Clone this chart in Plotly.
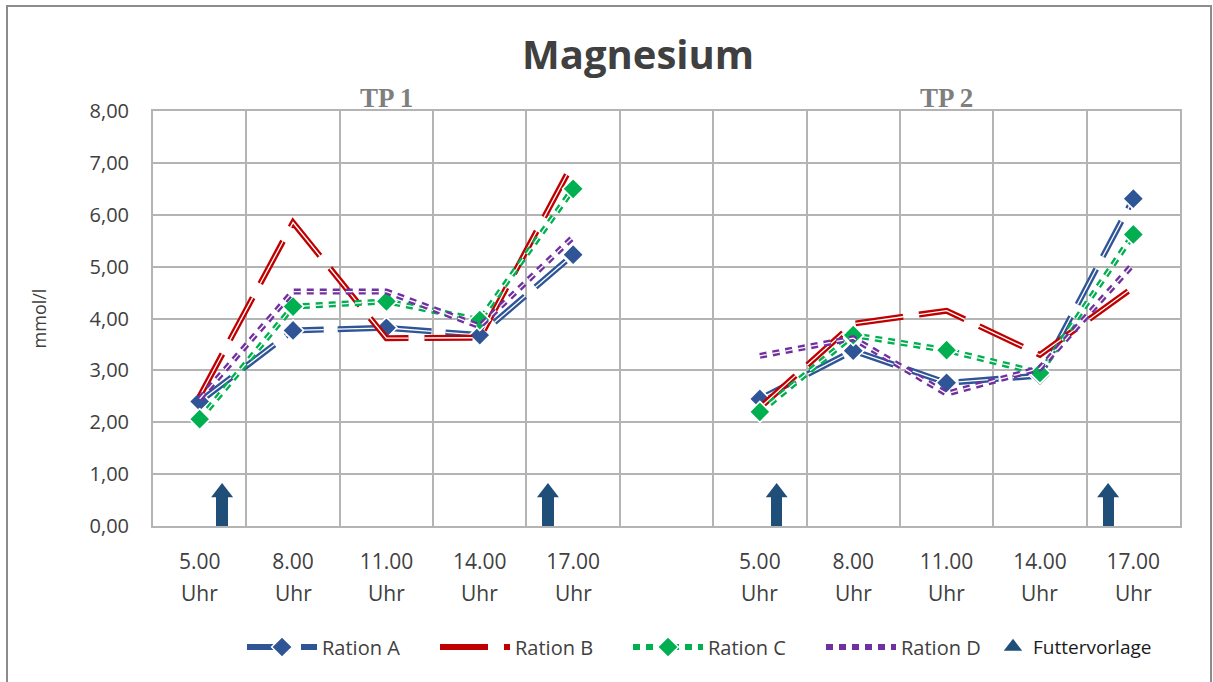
import plotly.graph_objects as go

# Sampling times per trial period (TP 1, blank spacer, TP 2)
time_labels = ["5.00", "8.00", "11.00", "14.00", "17.00"]
period_labels = ["TP 1", "TP 2"]
x_pos = [0, 1, 2, 3, 4, 5, 6, 7, 8, 9, 10]
tick_pos = [0, 1, 2, 3, 4, 6, 7, 8, 9, 10]
tick_text = time_labels + time_labels
period_pos = [2, 8]

# Magnesium concentration (mmol/l); None = spacer between the periods
ration_a = [2.40, 3.77, 3.82, 3.68, 5.23, None, 2.45, 3.38, 2.76, 2.90, 6.31]
ration_b = [2.50, 5.85, 3.62, 3.63, 7.00, None, 2.28, 3.90, 4.15, 3.30, 4.60]
ration_c = [2.06, 4.23, 4.33, 3.97, 6.50, None, 2.20, 3.68, 3.39, 2.95, 5.62]
ration_d = [2.45, 4.52, 4.52, 3.85, 5.57, None, 3.28, 3.62, 2.55, 3.04, 5.05]

# Feeding times (arrow positions on the x scale) and arrow height
feed_x = [0.24, 3.73, 6.18, 9.73]
feed_tip = [0.83, 0.83, 0.83, 0.83]

Y_MIN, Y_MAX = 0, 8
PLOT_H = 415  # px height of the plotting area
px_per_unit = PLOT_H / (Y_MAX - Y_MIN)
HEAD = 19     # triangle marker size
head_center = [t - (HEAD / 2) / px_per_unit for t in feed_tip]
shaft_top = [c - (HEAD / 4) / px_per_unit + 0.03 for c in head_center]

series = [
    dict(name="Ration A", y=ration_a, color="#2F5597", dash="40px,14px", marker=True),
    dict(name="Ration B", y=ration_b, color="#C00000", dash="48px,16px", marker=False),
    dict(name="Ration C", y=ration_c, color="#00B050", dash="7px,6px", marker=True),
    dict(name="Ration D", y=ration_d, color="#7030A0", dash="7px,6px", marker=False),
]

fig = go.Figure()

for s in series:
    mk = dict(symbol="diamond", size=16, color=s["color"],
              line=dict(color="white", width=1.5))
    fig.add_trace(go.Scatter(
        x=x_pos, y=s["y"], name=s["name"],
        mode="lines+markers" if s["marker"] else "lines",
        line=dict(color=s["color"], width=6, dash=s["dash"]),
        marker=mk if s["marker"] else None,
        connectgaps=False, legendgroup=s["name"],
    ))
    # thin white inner stripe for the double-line look
    fig.add_trace(go.Scatter(
        x=x_pos, y=s["y"], mode="lines", showlegend=False, hoverinfo="skip",
        line=dict(color="white", width=1.3, dash=s["dash"]),
        connectgaps=False, legendgroup=s["name"],
    ))
    if s["marker"]:
        fig.add_trace(go.Scatter(
            x=x_pos, y=s["y"], mode="markers", showlegend=False,
            marker=mk, legendgroup=s["name"],
        ))

# feeding arrows: shaft as narrow bars, head as triangle markers
fig.add_trace(go.Bar(
    x=feed_x, y=shaft_top, width=0.12, marker=dict(color="#1F4E79", line_width=0),
    showlegend=False, hoverinfo="skip", legendgroup="feed",
))
fig.add_trace(go.Scatter(
    x=feed_x, y=head_center, mode="markers", name="Futtervorlage",
    marker=dict(symbol="triangle-up", size=HEAD, color="#1F4E79", line_width=0),
    legendgroup="feed", legend="legend2",
))

annotations = []
for p, lab in zip(period_pos, period_labels):
    annotations.append(dict(
        x=p, y=1, xref="x", yref="paper", text=lab, showarrow=False,
        yanchor="bottom", yshift=-4,
        font=dict(family="Liberation Serif", size=27, color="#7F7F7F", weight="bold"),
    ))
for p in tick_pos:
    annotations.append(dict(
        x=p, y=0, xref="x", yref="paper", text="Uhr", showarrow=False,
        yanchor="middle", yshift=-67,
        font=dict(family="Open Sans", size=21, color="#404040"),
    ))

# outer chart border
L, R, T, B = 153, 33, 111, 156
W, H = 1213, 682
pw, ph = W - L - R, H - T - B
def px_x(v):
    return (v - L) / pw
def px_y(v):
    return (H - B - v) / ph

fig.update_layout(
    width=W, height=H,
    margin=dict(l=L, r=R, t=T, b=B),
    paper_bgcolor="white", plot_bgcolor="white",
    separators=",.",
    font=dict(family="Open Sans", color="#404040"),
    title=dict(text="<b>Magnesium</b>", x=0.526, xanchor="center", y=1 - 55 / H,
               yanchor="middle", font=dict(family="Open Sans", size=40, color="#404040")),
    xaxis=dict(
        range=[-0.5, 10.5], tickmode="array", tickvals=tick_pos, ticktext=tick_text,
        showgrid=False, zeroline=False, showline=True, mirror=True,
        linecolor="#B4B4B4", linewidth=2, ticks="", ticklabelstandoff=16,
        tickfont=dict(family="Open Sans", size=21, color="#404040"),
        minor=dict(tick0=0.5, dtick=1, showgrid=True, gridcolor="#B4B4B4", gridwidth=2),
    ),
    yaxis=dict(
        range=[Y_MIN, Y_MAX], dtick=1, tickformat=".2f",
        showgrid=True, gridcolor="#B4B4B4", gridwidth=2, zeroline=False,
        showline=True, mirror=True, linecolor="#B4B4B4", linewidth=2,
        ticks="", ticklabelstandoff=18,
        tickfont=dict(family="Open Sans", size=20, color="#404040"),
        title=dict(text="mmol/l", standoff=38,
                   font=dict(family="Open Sans", size=18, color="#404040")),
    ),
    legend=dict(
        orientation="h", xref="container", yref="container",
        x=242 / W, xanchor="left", y=1 - 647 / H, yanchor="middle",
        entrywidth=108, itemwidth=70,
        font=dict(family="Open Sans", size=20, color="#404040"),
        bgcolor="rgba(0,0,0,0)",
    ),
    legend2=dict(
        orientation="h", xref="container", yref="container",
        x=993 / W, xanchor="left", y=1 - 647 / H, yanchor="middle",
        itemwidth=30,
        font=dict(family="Open Sans", size=19, color="#1A1A1A"),
        bgcolor="rgba(0,0,0,0)",
    ),
    annotations=annotations,
    shapes=[dict(
        type="rect", xref="paper", yref="paper",
        x0=px_x(7), x1=px_x(1211), y0=px_y(690), y1=px_y(6),
        line=dict(color="#8C8C8C", width=2), fillcolor="rgba(0,0,0,0)", layer="below",
    )],
    bargap=0,
)

fig.write_html("out.html")
